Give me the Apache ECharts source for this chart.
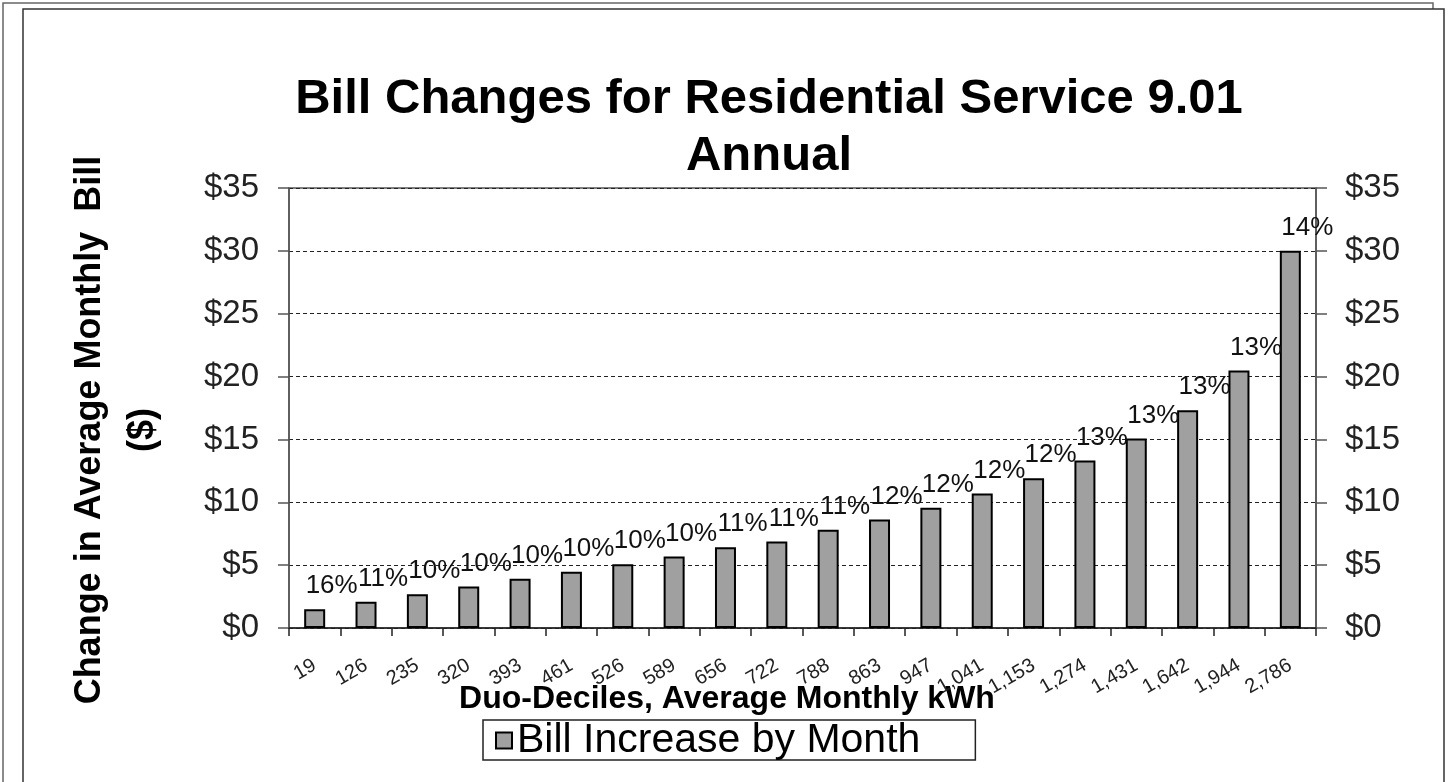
<!DOCTYPE html>
<html>
<head>
<meta charset="utf-8">
<script src="https://cdn.jsdelivr.net/npm/echarts@6/dist/echarts.min.js"></script>
<style>
html,body{margin:0;padding:0;background:#fff;}
#chart{width:1449px;height:782px;}
</style>
</head>
<body>
<div id="chart"></div>
<script>
const categories = ['19','126','235','320','393','461','526','589','656','722','788','863','947','1,041','1,153','1,274','1,431','1,642','1,944','2,786'];
const billIncrease = [1.5,2.08,2.69,3.31,3.92,4.48,5.07,5.68,6.43,6.88,7.81,8.64,9.57,10.69,11.92,13.33,15.07,17.33,20.48,30.0];
const pctLabels = ['16%','11%','10%','10%','10%','10%','10%','10%','11%','11%','11%','12%','12%','12%','12%','13%','13%','13%','13%','14%'];
const titleText = 'Bill Changes for Residential Service 9.01\nAnnual';
const yTitle = 'Change in Average Monthly  Bill\n($)';
const xTitle = 'Duo-Deciles, Average Monthly kWh';
const seriesName = 'Bill Increase by Month';

const FONT = "'Liberation Sans', Arial, sans-serif";
const chart = echarts.init(document.getElementById('chart'));
const yAxisCommon = {
  type: 'value', min: 0, max: 35, interval: 5,
  axisLine: {show: true, lineStyle: {color: '#555', width: 1.5}},
  axisTick: {show: true, length: 11, lineStyle: {color: '#555', width: 1.5}},
  axisLabel: {formatter: v => '$' + v, fontSize: 33, color: '#222', fontFamily: FONT, margin: 30}
};
chart.setOption({
  animation: false,
  backgroundColor: '#fff',
  graphic: [
    {type: 'rect', shape: {x: 3, y: 3, width: 1430, height: 800}, style: {fill: '#fff', stroke: '#666', lineWidth: 1.5}, z: -10},
    {type: 'rect', shape: {x: 23, y: 9, width: 1421, height: 800}, style: {fill: '#fff', stroke: '#333', lineWidth: 1.5}, z: -9},
    {type: 'text', x: 117, y: 430, rotation: Math.PI / 2,
     style: {text: yTitle, font: 'bold 36px ' + FONT, fill: '#000', textAlign: 'center', textVerticalAlign: 'middle', lineHeight: 53}},
    {type: 'text', x: 727, y: 699,
     style: {text: xTitle, font: 'bold 32px ' + FONT, fill: '#000', textAlign: 'center', textVerticalAlign: 'middle'}}
  ],
  title: {
    text: titleText, left: 764, top: 66, textAlign: 'center',
    textStyle: {fontSize: 49, fontWeight: 'bold', color: '#000', fontFamily: FONT, lineHeight: 57}
  },
  legend: {
    data: [seriesName], left: 483, top: 720,
    borderColor: '#222', borderWidth: 1.5, padding: [0, 55, -1, 12],
    itemWidth: 16, itemHeight: 16, icon: 'rect',
    textStyle: {fontSize: 41, color: '#000', fontFamily: FONT, lineHeight: 34}
  },
  grid: {left: 289, right: 133, top: 188, bottom: 154, show: true, borderColor: '#555', borderWidth: 1.5},
  xAxis: {
    type: 'category', data: categories,
    axisLine: {lineStyle: {color: '#222', width: 1.5}},
    axisTick: {show: true, length: 8, alignWithLabel: false, lineStyle: {color: '#222', width: 1.5}},
    axisLabel: {rotate: 30, fontSize: 20, color: '#222', fontFamily: FONT, margin: 36, interval: 0}
  },
  yAxis: [
    Object.assign({}, yAxisCommon, {position: 'left', splitLine: {show: true, lineStyle: {color: '#222', type: [4, 3], width: 1}}}),
    Object.assign({}, yAxisCommon, {position: 'right', axisLabel: Object.assign({}, yAxisCommon.axisLabel, {margin: 29}), splitLine: {show: false}})
  ],
  series: [{
    name: seriesName, type: 'bar', data: billIncrease, barWidth: 21,
    itemStyle: {color: '#a0a0a0', borderColor: '#000', borderWidth: 2},
    label: {
      show: true, position: 'top', distance: 10, offset: [17, 0],
      formatter: p => pctLabels[p.dataIndex],
      fontSize: 26, color: '#111', fontFamily: FONT
    }
  }]
});
</script>
</body>
</html>
